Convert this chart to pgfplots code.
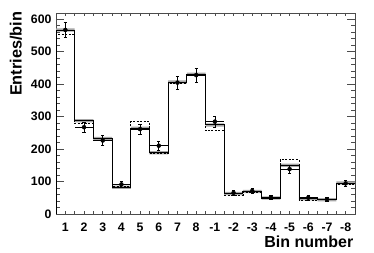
\documentclass[border=0pt]{standalone}
\usepackage{fontspec}
\setmainfont{Liberation Sans}
\usepackage{pgfplots}
\pgfplotsset{compat=1.18}
\usepgfplotslibrary{fillbetween}
\begin{document}
\begin{tikzpicture}
\begin{axis}[at={(56pt,39pt)}, anchor=south west, scale only axis,
  width=299pt, height=201pt,
  xmin=0.5, xmax=16.5, ymin=0, ymax=618,
  axis line style={black!70, line width=0.7pt},
  tick align=inside,
  xtick={1,...,16},
  xticklabels={1,2,3,4,5,6,7,8,-1,-2,-3,-4,-5,-6,-7,-8},
  minor xtick={1.5,3.5,...,15.5},
  extra x ticks={2.5,4.5,...,14.5},
  extra x tick labels={},
  extra x tick style={/pgfplots/major tick length=6pt},
  x tick style={/pgfplots/major tick length=3pt,/pgfplots/minor tick length=3pt},
  ytick={0,100,...,600}, minor y tick num=4,
  y tick style={/pgfplots/major tick length=8pt,/pgfplots/minor tick length=4pt},
  every tick/.style={black!70, line width=0.6pt},
  /pgf/number format/assume math mode=true,
  ticklabel style={font=\bfseries\fontsize{12.3}{12.3}\selectfont},
  xticklabel style={yshift=-5.5pt},
  yticklabel style={xshift=-1pt},
]
\addplot[name path=up, draw=none, const plot] coordinates {(0.5,571)(1.5,292)(2.5,237)(3.5,87)(4.5,269)(5.5,193)(6.5,411)(7.5,435)(8.5,279)(9.5,68)(10.5,74)(11.5,54)(12.5,155)(13.5,52)(14.5,49)(15.5,100)(16.5,100)};
\addplot[name path=lo, draw=none, const plot] coordinates {(0.5,561)(1.5,282)(2.5,227)(3.5,77)(4.5,259)(5.5,183)(6.5,401)(7.5,425)(8.5,269)(9.5,58)(10.5,64)(11.5,44)(12.5,145)(13.5,42)(14.5,39)(15.5,90)(16.5,90)};
\addplot[black!35, draw=none] fill between[of=up and lo];
% dashed histogram
\addplot[const plot, black, line width=0.7pt, dash pattern=on 2pt off 1.5pt] coordinates {(0.5,0)(0.5,552)(1.5,278)(2.5,227)(3.5,86)(4.5,284)(5.5,185)(6.5,403)(7.5,427)(8.5,256)(9.5,58)(10.5,67)(11.5,49)(12.5,167)(13.5,43)(14.5,45)(15.5,90)(16.5,90)(16.5,0)};
% solid histogram
\addplot[const plot, black, line width=0.8pt] coordinates {(0.5,0)(0.5,566)(1.5,287)(2.5,232)(3.5,82)(4.5,264)(5.5,188)(6.5,406)(7.5,430)(8.5,274)(9.5,63)(10.5,69)(11.5,49)(12.5,150)(13.5,47)(14.5,44)(15.5,95)(16.5,95)(16.5,0)};
% data x errors
\addplot[draw=none, mark=none, black, error bars/.cd, x dir=both, x explicit, error mark=none, error bar style={line width=0.6pt, solid}] coordinates {
(1,566)+-(0.5,0) (2,267)+-(0.5,0) (3,226)+-(0.5,0) (4,91)+-(0.5,0)
(5,261)+-(0.5,0) (6,210)+-(0.5,0) (7,404)+-(0.5,0) (8,427)+-(0.5,0)
(9,284)+-(0.5,0) (10,65)+-(0.5,0) (11,71)+-(0.5,0) (12,51)+-(0.5,0)
(13,138)+-(0.5,0) (14,50)+-(0.5,0) (15,45)+-(0.5,0) (16,94)+-(0.5,0)};
% data y errors
\addplot[only marks, mark=*, mark size=2pt, black, error bars/.cd, y dir=both, y explicit, error bar style={line width=0.6pt}, error mark options={rotate=90, mark size=1.6pt, line width=0.6pt}] coordinates {
(1,566)+-(0,24) (2,267)+-(0,16.3) (3,226)+-(0,15) (4,91)+-(0,9.5)
(5,261)+-(0,16.2) (6,210)+-(0,14.5) (7,404)+-(0,20) (8,427)+-(0,20.7)
(9,284)+-(0,16.9) (10,65)+-(0,8) (11,71)+-(0,8.4) (12,51)+-(0,7.1)
(13,138)+-(0,11.7) (14,50)+-(0,7.1) (15,45)+-(0,6.7) (16,94)+-(0,9.7)};
\end{axis}
\node[rotate=90, anchor=north east, inner sep=0pt, font=\bfseries\fontsize{16.3}{16.3}\selectfont] at (9.5pt,241.5pt) {Entries/bin};
\node[anchor=base east, inner sep=0pt, font=\bfseries\fontsize{16}{16}\selectfont] at (353.5pt,5pt) {Bin number};
\pgfresetboundingbox
\useasboundingbox (0pt,0pt) rectangle (374pt,253pt);
\end{tikzpicture}
\end{document}
